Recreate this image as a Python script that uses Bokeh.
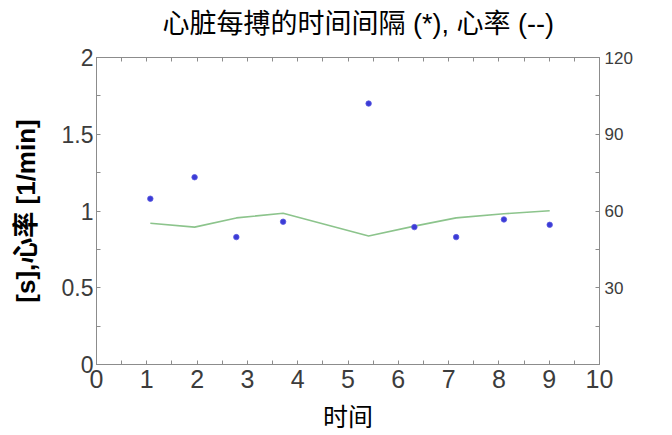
from bokeh.plotting import figure
from bokeh.models import Range1d, LinearAxis, FixedTicker, CustomLabelingPolicy
from bokeh.embed import file_html
from bokeh.resources import INLINE

# ---- data ----
beat_times = [1.07, 1.95, 2.78, 3.71, 5.41, 6.32, 7.15, 8.10, 9.01]
beat_intervals = [1.08, 1.22, 0.83, 0.93, 1.70, 0.895, 0.83, 0.945, 0.91]
heart_rate = [55.2, 53.7, 57.3, 59.1, 50.2, 54.1, 57.3, 58.9, 60.1]

x_ticks = [0, 1, 2, 3, 4, 5, 6, 7, 8, 9, 10]
x_minor = [0.5, 1.5, 2.5, 3.5, 4.5, 5.5, 6.5, 7.5, 8.5, 9.5]
y_ticks = [0, 0.5, 1, 1.5, 2]
y_minor = [0.25, 0.75, 1.25, 1.75]
hr_ticks = [30, 60, 90, 120]
hr_minor = [15, 45, 75, 105]

title_text = "心脏每搏的时间间隔 (*), 心率 (--)"
x_label = "时间"
y_label = "[s],心率 [1/min]"

FONT = "'Liberation Sans', 'Noto Sans CJK SC', sans-serif"
AX = "#8c8c8c"
TXT = "#3c3c3c"

p = figure(frame_width=503, frame_height=307,
           x_range=Range1d(0, 10), y_range=Range1d(0, 2),
           output_backend="svg", toolbar_location=None,
           min_border_left=96, min_border_right=56,
           min_border_top=49, min_border_bottom=58,
           background_fill_color="white", border_fill_color="white")
p.extra_y_ranges = {"hr": Range1d(0, 120)}
p.xgrid.visible = False
p.ygrid.visible = False
p.outline_line_color = AX
p.outline_line_width = 1

p.title.text = title_text
p.title.text_font = FONT
p.title.text_font_size = "27px"
p.title.text_font_style = "normal"
p.title.text_color = "black"
p.title.text_line_height = 0.85
p.title.align = "left"
p.title.offset = 66
p.title.standoff = 13


def style(ax, ticks, minor, size):
    ax.ticker = FixedTicker(ticks=ticks, minor_ticks=minor)
    ax.axis_line_color = AX
    ax.major_tick_line_color = AX
    ax.minor_tick_line_color = AX
    ax.major_tick_in = 4
    ax.major_tick_out = 0
    ax.minor_tick_in = 4
    ax.minor_tick_out = 0
    ax.major_label_text_font = FONT
    ax.major_label_text_font_size = size
    ax.major_label_text_color = TXT


xa = p.xaxis[0]
style(xa, x_ticks, x_minor, "25px")
xa.major_label_standoff = 5
xa.axis_label = x_label
xa.axis_label_text_font = FONT
xa.axis_label_text_font_size = "25px"
xa.axis_label_text_font_style = "normal"
xa.axis_label_text_color = "black"
xa.axis_label_text_line_height = 1.0
xa.axis_label_standoff = 12

ya = p.yaxis[0]
style(ya, y_ticks, y_minor, "23px")
ya.major_label_standoff = 3
ya.axis_label = y_label
ya.axis_label_text_font = FONT
ya.axis_label_text_font_size = "26px"
ya.axis_label_text_font_style = "bold"
ya.axis_label_text_color = "black"
ya.axis_label_standoff = 18

ra = LinearAxis(y_range_name="hr")
style(ra, hr_ticks, hr_minor, "17px")
ra.major_label_standoff = 5
p.add_layout(ra, "right")

ta = LinearAxis()
style(ta, x_ticks, x_minor, "12px")
ta.major_label_standoff = 0
ta.major_label_policy = CustomLabelingPolicy(
    code="const ids = [...indices]; for (const i of ids) indices.unset(i); return indices")
p.add_layout(ta, "above")

# heart rate line (right axis)
p.line(beat_times, heart_rate, y_range_name="hr",
       line_color="#8cc48c", line_width=1.6)

# beat intervals (left axis)
p.scatter(beat_times, beat_intervals, marker="circle", size=5.5,
          fill_color="#3b3bd6", line_color="#5a5ae0", line_width=0.8)

open("out.html", "w").write(file_html(p, INLINE))
